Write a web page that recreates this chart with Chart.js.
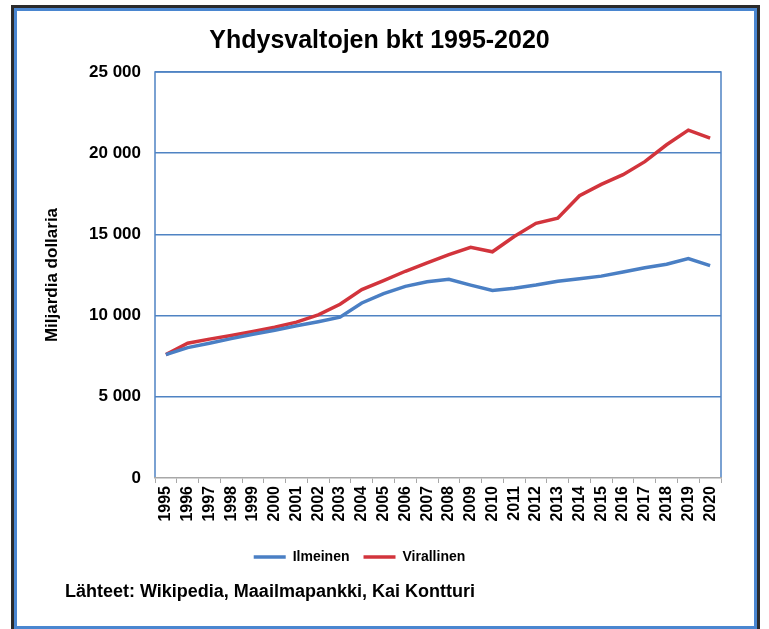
<!DOCTYPE html>
<html>
<head>
<meta charset="utf-8">
<script src="https://cdn.jsdelivr.net/npm/chart.js@4"></script>
<style>
  html, body { margin: 0; padding: 0; background: #fff; }
  #wrap { width: 769px; height: 629px; }
</style>
</head>
<body>
<div id="wrap"><canvas id="myChart" width="769" height="629"></canvas></div>
<script>
(() => {
    'use strict'

    // vuodet ja sarjat (miljardia dollaria)
    const years = ['1995', '1996', '1997', '1998', '1999', '2000', '2001', '2002', '2003', '2004', '2005', '2006', '2007',
        '2008', '2009', '2010', '2011', '2012', '2013', '2014', '2015', '2016', '2017', '2018', '2019', '2020'];
    const ilmeinen = [7600, 8030, 8300, 8580, 8850, 9100, 9370, 9620, 9900, 10780, 11350, 11800, 12080,
        12230, 11880, 11550, 11680, 11880, 12120, 12270, 12430, 12690, 12950, 13160, 13510, 13080];
    const virallinen = [7600, 8300, 8550, 8780, 9030, 9280, 9600, 10050, 10700, 11600, 12150, 12730, 13250,
        13750, 14200, 13930, 14870, 15680, 16000, 17380, 18080, 18680, 19480, 20520, 21420, 20930];
    const yTicks = [0, 5000, 10000, 15000, 20000, 25000];
    const sourceText = 'Lähteet: Wikipedia, Maailmapankki, Kai Kontturi';

    const FONT = "'Liberation Sans', Arial, sans-serif";
    const BLUE = '#4a7fc4';
    const RED = '#d2343c';
    const GRID = '#4f83c3';

    // kehys, kuva-alueen reunat ja lähdeteksti
    const framePlugin = {
        id: 'frame',
        afterLayout(chart) {
            // selite hieman vasemmalle kuten alkuperäisessä
            chart.legend.left -= 20;
            chart.legend.right -= 20;
        },
        beforeDraw(chart) {
            const c = chart.ctx;
            c.save();
            c.fillStyle = '#fff';
            c.fillRect(0, 0, chart.width, chart.height);
            c.strokeStyle = '#2b2b2b';
            c.lineWidth = 3;
            c.strokeRect(12.5, 6.5, 746, 630);
            c.strokeStyle = '#4a86d0';
            c.lineWidth = 3;
            c.strokeRect(15.5, 9.5, 740, 618);
            const a = chart.chartArea;
            c.strokeStyle = GRID;
            c.lineWidth = 1.5;
            c.beginPath();
            c.moveTo(a.left, a.bottom);
            c.lineTo(a.left, a.top);
            c.lineTo(a.right, a.top);
            c.lineTo(a.right, a.bottom);
            c.stroke();
            c.restore();
        },
        afterDraw(chart) {
            const c = chart.ctx;
            c.save();
            c.fillStyle = '#000';
            c.font = 'bold 18px ' + FONT;
            c.textBaseline = 'middle';
            c.textAlign = 'left';
            c.fillText(sourceText, 65, 592);
            c.restore();
        }
    };

    const ctx = document.getElementById('myChart').getContext('2d');
    new Chart(ctx, {
        type: 'line',
        data: {
            labels: years,
            datasets: [{
                label: 'Ilmeinen',
                data: ilmeinen,
                borderColor: BLUE,
                backgroundColor: BLUE,
                borderWidth: 3.5,
                pointRadius: 0,
                tension: 0
            }, {
                label: 'Virallinen',
                data: virallinen,
                borderColor: RED,
                backgroundColor: RED,
                borderWidth: 3.5,
                pointRadius: 0,
                tension: 0
            }]
        },
        options: {
            responsive: false,
            animation: false,
            layout: {
                padding: { left: 38, right: 48, top: 12, bottom: 55 }
            },
            scales: {
                x: {
                    offset: true,
                    grid: {
                        drawOnChartArea: false,
                        offset: true,
                        tickLength: 5,
                        color: '#a8a8a8'
                    },
                    border: { color: '#a8a8a8', width: 1.5 },
                    ticks: {
                        color: '#000',
                        font: { family: FONT, size: 16, weight: 'bold' },
                        maxRotation: 90,
                        minRotation: 90,
                        autoSkip: false,
                        padding: 3
                    },
                    afterFit(scale) { scale.height = 58; }
                },
                y: {
                    min: 0,
                    max: 25000,
                    afterBuildTicks(scale) {
                        scale.ticks = yTicks.map(v => ({ value: v }));
                    },
                    grid: {
                        drawTicks: false,
                        lineWidth: 1.5,
                        color: c => c.tick && c.tick.value === 0 ? 'rgba(0,0,0,0)' : GRID
                    },
                    border: { display: false },
                    ticks: {
                        color: '#000',
                        padding: 14,
                        font: { family: FONT, size: 17, weight: 'bold' },
                        callback: v => String(v).replace(/\B(?=(\d{3})+(?!\d))/g, ' ')
                    },
                    title: {
                        display: true,
                        text: 'Miljardia dollaria',
                        color: '#000',
                        font: { family: FONT, size: 17, weight: 'bold' },
                        padding: { top: 4, bottom: 0 }
                    },
                    afterFit(scale) { scale.width = 117; }
                }
            },
            plugins: {
                title: {
                    display: true,
                    text: 'Yhdysvaltojen bkt 1995-2020',
                    color: '#000',
                    font: { family: FONT, size: 25, weight: 'bold' },
                    padding: { top: 14, bottom: 16 }
                },
                legend: {
                    position: 'bottom',
                    labels: {
                        color: '#000',
                        font: { family: FONT, size: 14, weight: 'bold' },
                        usePointStyle: true,
                        pointStyle: 'line',
                        pointStyleWidth: 32,
                        padding: 14
                    }
                },
                tooltip: { enabled: false }
            }
        },
        plugins: [framePlugin]
    });
})();
</script>
</body>
</html>
